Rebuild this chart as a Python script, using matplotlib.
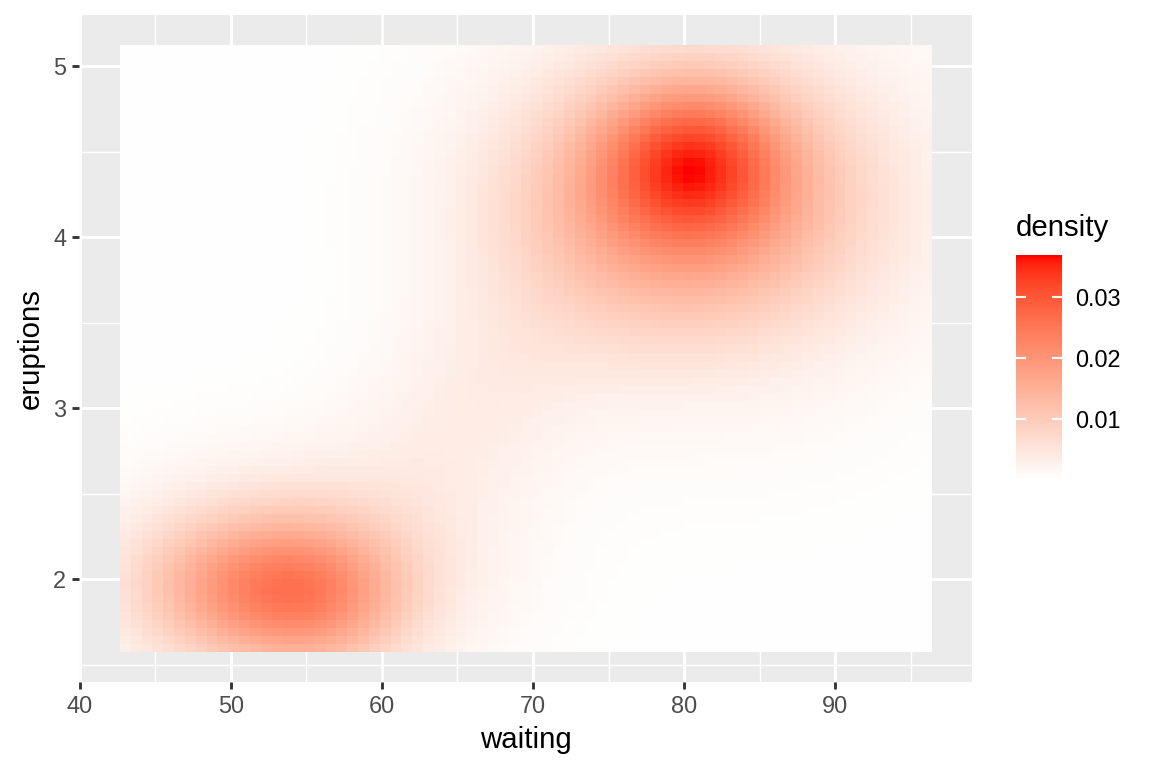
import numpy as np
import matplotlib
matplotlib.use("Agg")
import matplotlib.pyplot as plt
from matplotlib.colors import ListedColormap

plt.rcParams['font.family'] = ['Liberation Sans', 'DejaVu Sans']

# grid limits (range of the data)
wait_range = [43.0, 96.0]
erup_range = [1.6, 5.1]
n_grid = 75

comp_wait = [80.5, 80.0, 82.0, 50.5, 56.0, 55.0, 66.0]
comp_erup = [4.45, 4.20, 4.20, 1.95, 1.90, 2.05, 3.00]
comp_sd_wait = [4.0, 7.5, 10.0, 5.0, 4.2, 8.0, 6.0]
comp_sd_erup = [0.30, 0.50, 0.80, 0.30, 0.30, 0.45, 0.60]
comp_rho = [0.0, 0.0, 0.0, 0.0, 0.0, 0.0, 0.5]
comp_peak = [0.0175, 0.017, 0.004, 0.0135, 0.012, 0.005, 0.003]

x_ticks = [40, 50, 60, 70, 80, 90]
x_minor = [45, 55, 65, 75, 85, 95]
y_ticks = [2, 3, 4, 5]
y_minor = [1.5, 2.5, 3.5, 4.5]
bar_ticks = [0.01, 0.02, 0.03]

xs = np.linspace(wait_range[0], wait_range[1], n_grid)
ys = np.linspace(erup_range[0], erup_range[1], n_grid)
X, Y = np.meshgrid(xs, ys)
Z = np.zeros_like(X)
for mx, my, sx, sy, r, pk in zip(comp_wait, comp_erup, comp_sd_wait,
                                 comp_sd_erup, comp_rho, comp_peak):
    u = (X - mx) / sx
    v = (Y - my) / sy
    q = (u * u + v * v - 2 * r * u * v) / (1 - r * r)
    Z += pk * np.exp(-q / 2)


# white -> red, interpolated in Lab like ggplot
def rgb_to_lab(c):
    c = np.asarray(c, float)
    lin = np.where(c > 0.04045, ((c + 0.055) / 1.055) ** 2.4, c / 12.92)
    M = np.array([[0.4124, 0.3576, 0.1805],
                  [0.2126, 0.7152, 0.0722],
                  [0.0193, 0.1192, 0.9505]])
    xyz = M @ lin / np.array([0.95047, 1.0, 1.08883])
    f = np.where(xyz > (6 / 29) ** 3, np.cbrt(xyz), xyz / (3 * (6 / 29) ** 2) + 4 / 29)
    return np.array([116 * f[1] - 16, 500 * (f[0] - f[1]), 200 * (f[1] - f[2])])


def lab_to_rgb(lab):
    L, a, b = lab
    fy = (L + 16) / 116
    f = np.array([fy + a / 500, fy, fy - b / 200])
    xyz = np.where(f > 6 / 29, f ** 3, 3 * (6 / 29) ** 2 * (f - 4 / 29))
    xyz = xyz * np.array([0.95047, 1.0, 1.08883])
    Mi = np.array([[3.2406, -1.5372, -0.4986],
                   [-0.9689, 1.8758, 0.0415],
                   [0.0557, -0.2040, 1.0570]])
    lin = np.clip(Mi @ xyz, 0, 1)
    c = np.where(lin > 0.0031308, 1.055 * lin ** (1 / 2.4) - 0.055, lin * 12.92)
    return np.clip(c, 0, 1)


lab_lo = rgb_to_lab([1, 1, 1])
lab_hi = rgb_to_lab([1, 0, 0])
cmap = ListedColormap([lab_to_rgb(lab_lo + t * (lab_hi - lab_lo))
                       for t in np.linspace(0, 1, 256)])

fig = plt.figure(figsize=(6, 4), dpi=192)
ax = fig.add_axes([79 / 1152, 86 / 768, 893 / 1152, 667 / 768])
ax.set_facecolor('#EBEBEB')

dx = xs[1] - xs[0]
dy = ys[1] - ys[0]
ext = [xs[0] - dx / 2, xs[-1] + dx / 2, ys[0] - dy / 2, ys[-1] + dy / 2]
zmin, zmax = Z.min(), Z.max()
ax.imshow(Z, origin='lower', extent=ext, aspect='auto', cmap=cmap,
          vmin=zmin, vmax=zmax, interpolation='nearest', zorder=2)

xr = ext[1] - ext[0]
yr = ext[3] - ext[2]
ax.set_xlim(ext[0] - 0.05 * xr, ext[1] + 0.05 * xr)
ax.set_ylim(ext[2] - 0.05 * yr, ext[3] + 0.05 * yr)

for v in x_minor:
    ax.axvline(v, color='white', lw=0.53, zorder=1)
for v in y_minor:
    ax.axhline(v, color='white', lw=0.53, zorder=1)
for v in x_ticks:
    ax.axvline(v, color='white', lw=1.07, zorder=1)
for v in y_ticks:
    ax.axhline(v, color='white', lw=1.07, zorder=1)

ax.set_xticks(x_ticks)
ax.set_yticks(y_ticks)
ax.tick_params(length=2.75, width=1.07, color='#333333', labelcolor='#4D4D4D',
               labelsize=8.8, pad=2)
for s in ax.spines.values():
    s.set_visible(False)
ax.set_xlabel('waiting', fontsize=11, labelpad=3)
ax.set_ylabel('eruptions', fontsize=11, labelpad=3)

# colour bar legend
cax = fig.add_axes([1016 / 1152, 288 / 768, 46 / 1152, 225 / 768])
bar = np.linspace(zmin, zmax, 300).reshape(-1, 1)
cax.imshow(bar, origin='lower', extent=[0, 1, zmin, zmax], aspect='auto',
           cmap=cmap, vmin=zmin, vmax=zmax)
cax.set_xlim(0, 1)
cax.set_ylim(zmin, zmax)
cax.set_xticks([])
cax.set_yticks(bar_ticks)
cax.set_yticklabels(['%.2f' % t for t in bar_ticks])
cax.yaxis.tick_right()
cax.tick_params(axis='y', length=0, labelsize=8.8, labelcolor='black', pad=5)
for t in bar_ticks:
    cax.plot([0, 0.2], [t, t], color='white', lw=0.8)
    cax.plot([0.8, 1], [t, t], color='white', lw=0.8)
for s in cax.spines.values():
    s.set_visible(False)
fig.text(1016 / 1152, 1 - 236 / 768, 'density', fontsize=11, ha='left',
         va='baseline')

fig.savefig('out.png', dpi=192)
